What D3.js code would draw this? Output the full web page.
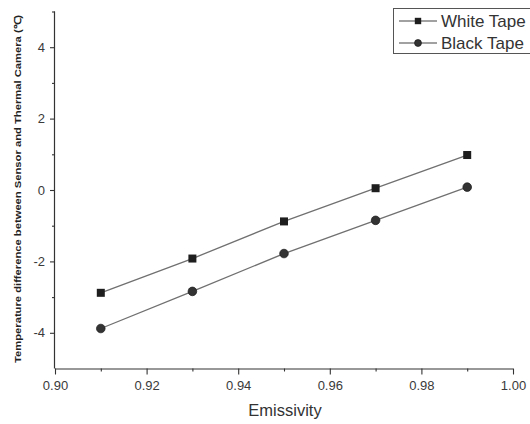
<!DOCTYPE html>
<html>
<head>
<meta charset="utf-8">
<script src="https://cdn.jsdelivr.net/npm/d3@7"></script>
<style>
  html, body { margin: 0; padding: 0; background: #fff; }
  svg { display: block; font-family: "Liberation Sans", Arial, sans-serif; }
</style>
</head>
<body>
<svg id="chart" width="530" height="424"></svg>
<script>
// Emissivity settings tested
const emissivity = [0.91, 0.93, 0.95, 0.97, 0.99];
// Temperature difference between sensor and thermal camera (°C)
const whiteTape = [-2.88, -1.92, -0.88, 0.05, 0.98];
const blackTape = [-3.88, -2.84, -1.78, -0.85, 0.08];
const seriesNames = ["White Tape", "Black Tape"];
const xTicks = [0.90, 0.92, 0.94, 0.96, 0.98, 1.00];
const yTicks = [-4, -2, 0, 2, 4];

const svg = d3.select("#chart");
const x = d3.scaleLinear().domain([0.90, 1.00]).range([55, 513]);
const y = d3.scaleLinear().domain([-5, 5]).range([368.5, 11.5]);

const axisColor = "#333";
const lineColor = "#707070";
const markColor = "#1e1e1e";

// X axis with minor ticks
const xAxis = svg.append("g").attr("transform", `translate(0,${y(-5)})`)
  .call(d3.axisBottom(x).tickValues(xTicks).tickFormat(d3.format(".2f")).tickSize(6).tickPadding(6));
svg.append("g").attr("transform", `translate(0,${y(-5)})`)
  .call(d3.axisBottom(x).tickValues(d3.range(0.91, 1.0, 0.02)).tickFormat("").tickSize(3))
  .select(".domain").remove();

// Y axis with minor ticks (plain hyphen for negatives)
const yAxis = svg.append("g").attr("transform", `translate(${x(0.90)},0)`)
  .call(d3.axisLeft(y).tickValues(yTicks).tickFormat(d => String(d)).tickSize(5).tickPadding(5));
svg.append("g").attr("transform", `translate(${x(0.90)},0)`)
  .call(d3.axisLeft(y).tickValues([-3, -1, 1, 3, 5]).tickFormat("").tickSize(3))
  .select(".domain").remove();

svg.selectAll(".domain").attr("stroke", axisColor).attr("stroke-width", 1.2);
svg.selectAll(".tick line").attr("stroke", axisColor).attr("stroke-width", 1.1);
svg.selectAll(".tick text").attr("fill", "#3a3a3a").style("font-size", "13px")
  .style("font-family", "'Liberation Sans', Arial, sans-serif");
xAxis.selectAll(".domain").attr("d", `M${x(0.90)},0.5H${x(1.00)}`);
yAxis.selectAll(".domain").attr("d", `M-0.5,${y(-5)}V${y(5)}`);

// Axis titles
svg.append("text")
  .attr("x", 285).attr("y", 416)
  .attr("text-anchor", "middle")
  .attr("fill", "#333")
  .style("font-size", "16.5px")
  .text("Emissivity");

svg.append("text")
  .attr("transform", `translate(21,189) rotate(-90)`)
  .attr("text-anchor", "middle")
  .attr("fill", "#222")
  .attr("font-weight", "bold")
  .attr("textLength", 348)
  .attr("lengthAdjust", "spacingAndGlyphs")
  .style("font-size", "9.5px")
  .text("Temperature difference between Sensor and Thermal Camera (\u2103)");

// Series
const series = [
  { name: seriesNames[0], values: whiteTape, shape: "square" },
  { name: seriesNames[1], values: blackTape, shape: "circle" }
];
const line = d3.line().x((d, i) => x(emissivity[i])).y(d => y(d));

function drawMarker(g, shape, cx, cy, size) {
  if (shape === "square") {
    g.append("rect").attr("x", cx - size).attr("y", cy - size)
      .attr("width", size * 2).attr("height", size * 2)
      .attr("fill", markColor);
  } else {
    g.append("circle").attr("cx", cx).attr("cy", cy).attr("r", size * 1.08)
      .attr("fill", "#333").attr("stroke", "#1a1a1a").attr("stroke-width", 0.7);
  }
}

series.forEach(s => {
  svg.append("path").datum(s.values)
    .attr("d", line).attr("fill", "none")
    .attr("stroke", lineColor).attr("stroke-width", 1.3);
  const g = svg.append("g");
  s.values.forEach((v, i) => drawMarker(g, s.shape, x(emissivity[i]), y(v), 4));
});

// Legend
const legend = svg.append("g");
legend.append("rect").attr("x", 393.5).attr("y", 8.5).attr("width", 140).attr("height", 45)
  .attr("fill", "#fff").attr("stroke", "#555").attr("stroke-width", 1);
series.forEach((s, i) => {
  const ly = 21 + i * 22;
  legend.append("line").attr("x1", 399).attr("x2", 437).attr("y1", ly).attr("y2", ly)
    .attr("stroke", "#444").attr("stroke-width", 1.2);
  drawMarker(legend, s.shape, 418, ly, 3.2);
  legend.append("text").attr("x", 441).attr("y", ly + 6)
    .attr("fill", "#333").style("font-size", "17px").text(s.name);
});
</script>
</body>
</html>
